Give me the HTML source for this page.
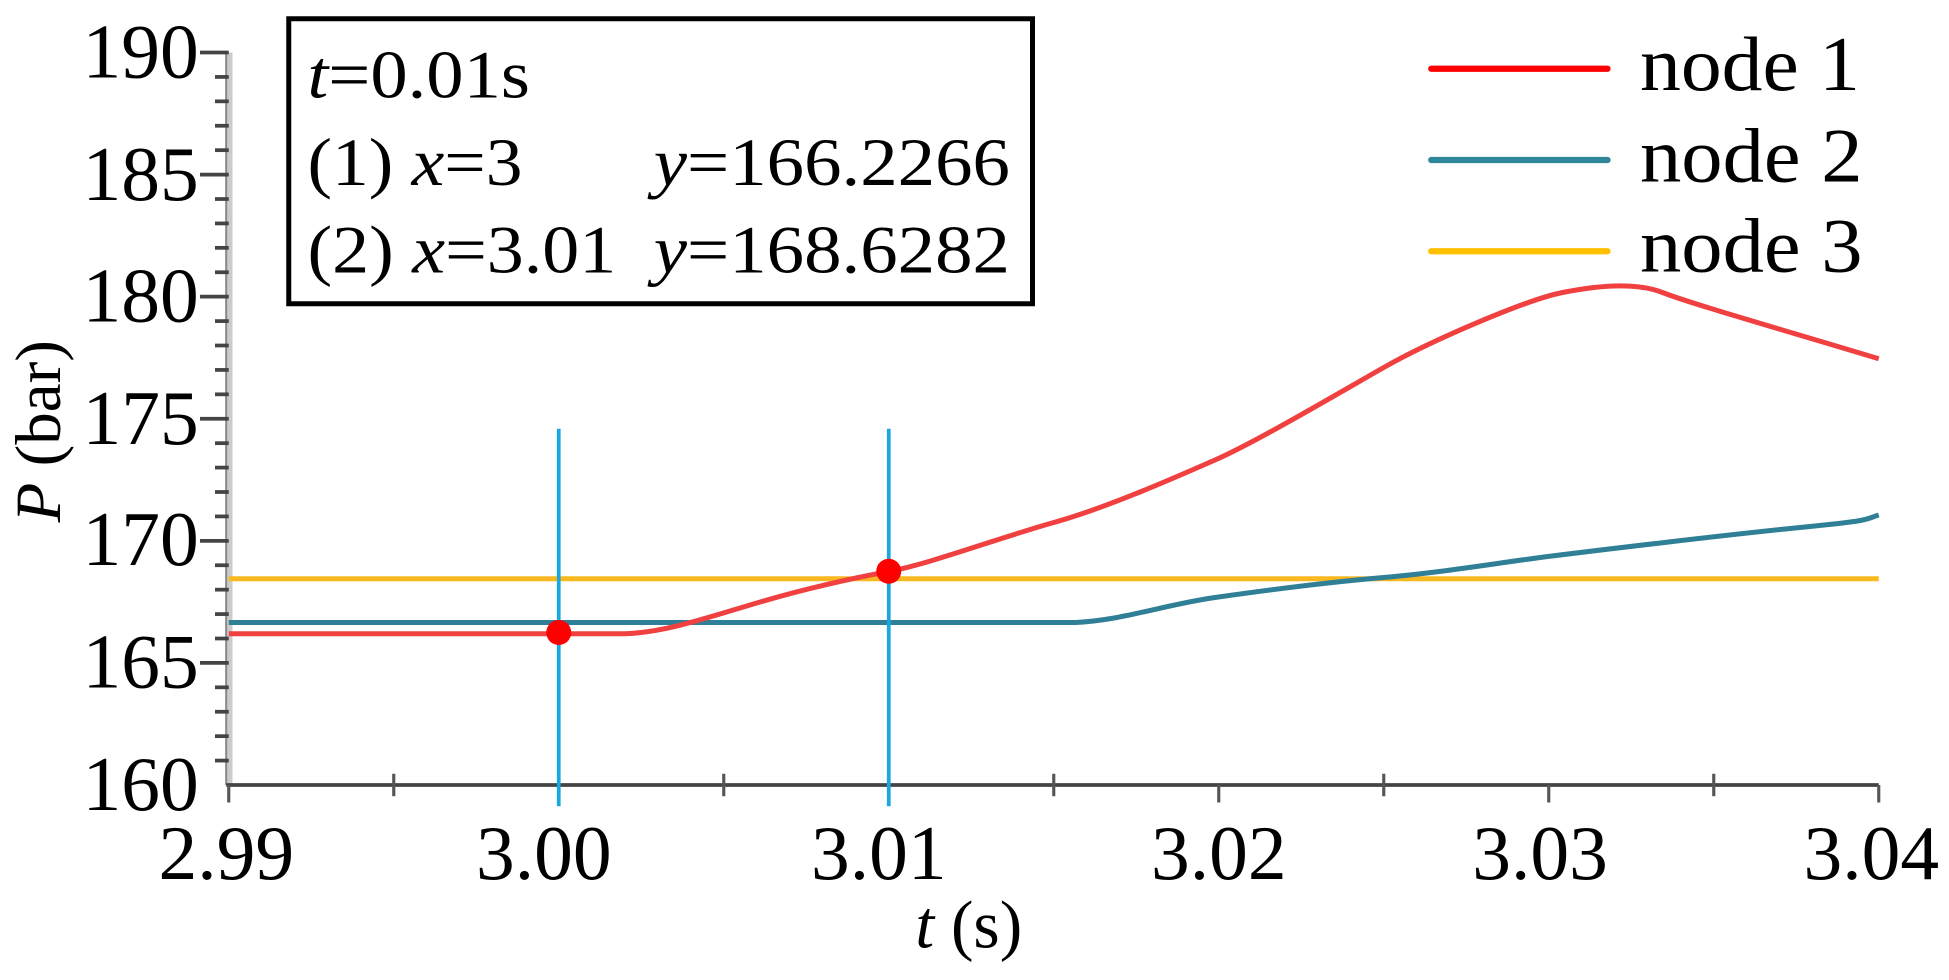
<!DOCTYPE html>
<html><head><meta charset="utf-8"><style>html,body{margin:0;padding:0;background:#fff;}svg{display:block}</style></head>
<body>
<svg width="1949" height="980" viewBox="0 0 1559.2 784" xmlns="http://www.w3.org/2000/svg" font-family="'Liberation Serif', serif">
<rect width="1559.2" height="784" fill="#fff"/>
<line x1="183" y1="42" x2="183" y2="628" stroke="#ccc" stroke-width="6"/>
<line x1="181" y1="42" x2="181" y2="628" stroke="#888" stroke-width="1.5"/>
<g stroke="#444" stroke-width="3">
<line x1="160" y1="42" x2="183" y2="42"/><line x1="160" y1="139.7" x2="183" y2="139.7"/><line x1="160" y1="237.3" x2="183" y2="237.3"/><line x1="160" y1="335" x2="183" y2="335"/><line x1="160" y1="432.7" x2="183" y2="432.7"/><line x1="160" y1="530.3" x2="183" y2="530.3"/>
</g>
<g stroke="#444" stroke-width="3" id="minor"></g>
<g font-size="62" text-anchor="end" fill="#000">
<text x="159" y="62">190</text><text x="159" y="160">185</text><text x="159" y="257">180</text><text x="159" y="355">175</text><text x="159" y="452">170</text><text x="159" y="550">165</text><text x="159" y="648">160</text>
</g>
<text transform="translate(48,345) rotate(-90)" font-size="52" text-anchor="middle"><tspan font-style="italic">P</tspan> (bar)</text>
<line x1="181" y1="628" x2="1503" y2="628" stroke="#444" stroke-width="3"/>
<g stroke="#555" stroke-width="2.5">
<line x1="183" y1="628" x2="183" y2="642"/><line x1="447" y1="628" x2="447" y2="642"/><line x1="711" y1="628" x2="711" y2="642"/><line x1="975" y1="628" x2="975" y2="642"/><line x1="1239" y1="628" x2="1239" y2="642"/><line x1="1503" y1="628" x2="1503" y2="642"/>
<line x1="315" y1="619" x2="315" y2="637"/><line x1="579" y1="619" x2="579" y2="637"/><line x1="843" y1="619" x2="843" y2="637"/><line x1="1107" y1="619" x2="1107" y2="637"/><line x1="1371" y1="619" x2="1371" y2="637"/>
</g>
<g font-size="62" text-anchor="middle">
<text x="181" y="703">2.99</text><text x="435" y="703">3.00</text><text x="703" y="703">3.01</text><text x="975" y="703">3.02</text><text x="1232" y="703">3.03</text><text x="1497" y="703">3.04</text>
</g>
<text x="775" y="758" font-size="54" text-anchor="middle"><tspan font-style="italic">t</tspan> (s)</text>
<line x1="183" y1="463" x2="1503" y2="463" stroke="#f9b820" stroke-width="4"/>
<path fill="none" stroke="#2f7f96" stroke-width="4" d="M183,498 L860,498 C900,496 930,484 972,478 S1060,466 1107,462 S1200,450 1240,445 S1380,428 1440,422 S1490,416 1503,412"/>
<path fill="none" stroke="#f04040" stroke-width="4" d="M183,507 L500,507 C530,506 560,496 600,484 S680,463 712,457 S800,430 843,418 S940,382 972,368 S1070,315 1107,294 S1220,240 1250,234 S1310,226 1330,234 S1420,262 1503,287"/>
<line x1="447" y1="343" x2="447" y2="645" stroke="#1aa7e0" stroke-width="3"/>
<line x1="711" y1="343" x2="711" y2="645" stroke="#1aa7e0" stroke-width="3"/>
<circle cx="447" cy="506" r="10" fill="#f00"/>
<circle cx="711" cy="457" r="10" fill="#f00"/>
<rect x="231" y="15" width="595" height="228" fill="#fff" stroke="#000" stroke-width="4"/>
<g font-size="54">
<text x="246" y="78" textLength="178" lengthAdjust="spacingAndGlyphs"><tspan font-style="italic">t</tspan>=0.01s</text>
<text x="246" y="148" textLength="172" lengthAdjust="spacingAndGlyphs">(1) <tspan font-style="italic">x</tspan>=3</text>
<text x="523" y="148" textLength="285" lengthAdjust="spacingAndGlyphs"><tspan font-style="italic">y</tspan>=166.2266</text>
<text x="246" y="218" textLength="247" lengthAdjust="spacingAndGlyphs">(2) <tspan font-style="italic">x</tspan>=3.01</text>
<text x="523" y="218" textLength="285" lengthAdjust="spacingAndGlyphs"><tspan font-style="italic">y</tspan>=168.6282</text>
</g>
<g stroke-width="5" stroke-linecap="round">
<line x1="1145" y1="55" x2="1286" y2="55" stroke="#f00"/>
<line x1="1145" y1="128" x2="1286" y2="128" stroke="#2f8599"/>
<line x1="1145" y1="201" x2="1286" y2="201" stroke="#ffc000"/>
</g>
<g font-size="62">
<text x="1312" y="72" textLength="176" lengthAdjust="spacingAndGlyphs">node 1</text><text x="1312" y="145" textLength="178" lengthAdjust="spacingAndGlyphs">node 2</text><text x="1312" y="217" textLength="178" lengthAdjust="spacingAndGlyphs">node 3</text>
</g>
<script>
var g=document.getElementById('minor');
for(var v=161;v<190;v++){if(v%5==0)continue;var y=628-(v-160)*19.533;var l=document.createElementNS('http://www.w3.org/2000/svg','line');l.setAttribute('x1',172);l.setAttribute('x2',183);l.setAttribute('y1',y);l.setAttribute('y2',y);g.appendChild(l);}
</script>
</svg>
</body></html>
